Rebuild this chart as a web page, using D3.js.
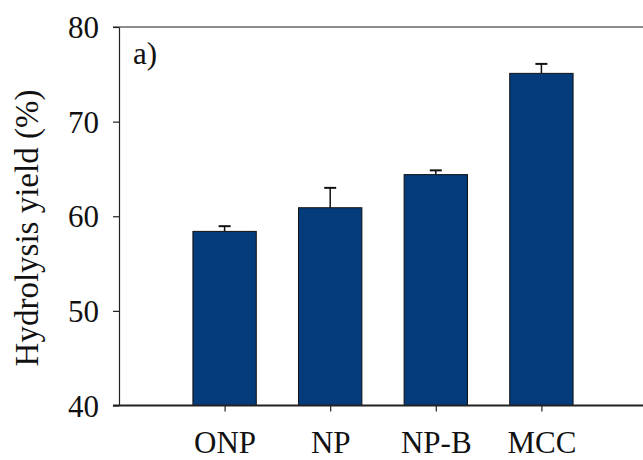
<!DOCTYPE html>
<html lang="en">
<head>
<meta charset="utf-8">
<title>Hydrolysis yield</title>
<script src="https://cdn.jsdelivr.net/npm/d3@7"></script>
<style>
  body { margin: 0; background: #fff; }
  text { font-family: "Liberation Serif", "Times New Roman", serif; fill: #111; }
</style>
</head>
<body>
<script>
// data
var categories = ["ONP", "NP", "NP-B", "MCC"];
var yields = [58.4, 60.9, 64.4, 75.1];
var errors = [0.55, 2.1, 0.45, 1.0];
var yTicks = [40, 50, 60, 70, 80];

var width = 643, height = 460;
var plotLeft = 119, plotTop = 27, plotBottom = 405.5;

var svg = d3.select("body").append("svg")
    .attr("width", width)
    .attr("height", height);

// categories sit at 1..4 on a 0..5 axis (right end is cut off by the frame)
var x = d3.scaleLinear().domain([0, 5]).range([plotLeft, plotLeft + 5 * 105.6]);
var y = d3.scaleLinear().domain([40, 80]).range([plotBottom, plotTop]);
var barW = 0.6 * (x(1) - x(0));

var data = categories.map(function(c, i) {
  return { cat: c, pos: i + 1, v: yields[i], e: errors[i] };
});

// top frame line
svg.append("line")
    .attr("x1", plotLeft - 6).attr("x2", width)
    .attr("y1", y(80)).attr("y2", y(80))
    .attr("stroke", "#666").attr("stroke-width", 1.5);

// bars
svg.append("g").selectAll("rect")
  .data(data)
  .enter().append("rect")
    .attr("x", d => x(d.pos) - barW / 2)
    .attr("y", d => y(d.v))
    .attr("width", barW)
    .attr("height", d => y(40) - y(d.v))
    .attr("fill", "#043b7b")
    .attr("stroke", "#111")
    .attr("stroke-width", 1);

// error bars (upper only)
var err = svg.append("g").attr("stroke", "#111").attr("stroke-width", 1.5);
err.selectAll("line.stem")
  .data(data)
  .enter().append("line")
    .attr("class", "stem")
    .attr("x1", d => x(d.pos)).attr("x2", d => x(d.pos))
    .attr("y1", d => y(d.v)).attr("y2", d => y(d.v + d.e));
err.selectAll("line.cap")
  .data(data)
  .enter().append("line")
    .attr("class", "cap")
    .attr("x1", d => x(d.pos) - 6).attr("x2", d => x(d.pos) + 6)
    .attr("y1", d => y(d.v + d.e)).attr("y2", d => y(d.v + d.e))
    .attr("stroke-width", 2);

// y axis
var yAxis = svg.append("g")
    .attr("transform", "translate(" + plotLeft + ",0)")
    .call(d3.axisLeft(y).tickValues(yTicks).tickSize(6).tickPadding(14).tickSizeOuter(0));
yAxis.select(".domain").attr("stroke", "#222").attr("stroke-width", 1.2);
yAxis.selectAll(".tick line").attr("stroke", "#222").attr("stroke-width", 1.2);
yAxis.selectAll("text").attr("font-size", 31).attr("dy", "0.34em");

// x axis
var xAxis = svg.append("g")
    .attr("transform", "translate(0," + plotBottom + ")")
    .call(d3.axisBottom(x).tickValues([1, 2, 3, 4])
      .tickFormat(d => categories[d - 1])
      .tickSize(6).tickPadding(19).tickSizeOuter(0));
xAxis.select(".domain").attr("d", "M" + (plotLeft - 6) + ",0H" + width)
    .attr("stroke", "#222").attr("stroke-width", 2);
xAxis.selectAll(".tick line").attr("stroke", "#222").attr("stroke-width", 1.2);
xAxis.selectAll("text").attr("font-size", 31);

// y label
svg.append("text")
    .attr("transform", "translate(38,228) rotate(-90)")
    .attr("text-anchor", "middle")
    .attr("font-size", 33)
    .text("Hydrolysis yield (%)");

// panel label
svg.append("text")
    .attr("x", 133).attr("y", 64)
    .attr("font-size", 31)
    .text("a)");
</script>
</body>
</html>
